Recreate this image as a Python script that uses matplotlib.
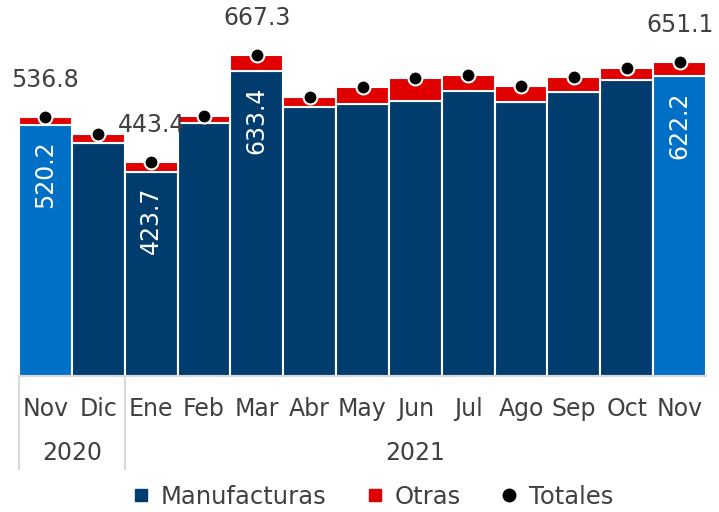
import matplotlib.pyplot as plt
from matplotlib.lines import Line2D
import numpy as np

# Datos (millones de dólares)
meses = ["Nov", "Dic", "Ene", "Feb", "Mar", "Abr", "May", "Jun", "Jul", "Ago", "Sep", "Oct", "Nov"]
anios = ["2020", "2021"]
meses_por_anio = [2, 11]
manufacturas = [520.2, 484.2, 423.7, 525.2, 633.4, 559.1, 564.7, 571.5, 591.7, 568.2, 589.0, 614.6, 622.2]
totales = [536.8, 502.3, 443.4, 539.1, 667.3, 579.9, 600.7, 619.4, 624.4, 602.1, 620.2, 639.6, 651.1]
otras = [t - m for t, m in zip(totales, manufacturas)]
etiquetados = [0, 2, 4, 12]   # barras con etiqueta de valor

AZUL = "#003D6E"
AZUL_CLARO = "#0070C6"
ROJO = "#E00000"
GRIS_TEXTO = "#404040"
GRIS_LINEA = "#D9D9D9"

plt.rcParams["font.family"] = ["DejaVu Sans"]

fig = plt.figure(figsize=(7.19, 5.12), dpi=100)
ax = fig.add_axes([19 / 719, 1 - 375.5 / 512, (706 - 19) / 719, 375.5 / 512])

x = np.arange(len(meses))
colores = [AZUL_CLARO if i in (0, len(meses) - 1) else AZUL for i in x]

ax.bar(x, manufacturas, width=1.0, color=colores, edgecolor="white", linewidth=1.5, zorder=2)
ax.bar(x, otras, bottom=manufacturas, width=1.0, color=ROJO, edgecolor="white", linewidth=1.5, zorder=2)
ax.plot(x, totales, "o", color="black", markersize=10, markeredgecolor="white", markeredgewidth=1.5,
        linestyle="none", zorder=3)

for i in etiquetados:
    ax.annotate(f"{totales[i]:.1f}", xy=(x[i], totales[i]), xytext=(0, 18), textcoords="offset points",
                ha="center", va="bottom", fontsize=17, color=GRIS_TEXTO)
    ax.annotate(f"{manufacturas[i]:.1f}", xy=(x[i], manufacturas[i]), xytext=(0, -11), textcoords="offset points",
                ha="center", va="top", rotation=90, fontsize=17, color="white")

ax.set_xlim(-0.5, len(meses) - 0.5)
ax.set_ylim(0, 781)
ax.set_yticks([])
for s in ["top", "right", "left"]:
    ax.spines[s].set_visible(False)
ax.spines["bottom"].set_color(GRIS_LINEA)
ax.spines["bottom"].set_linewidth(1.5)

ax.set_xticks(x)
ax.set_xticklabels(meses, fontsize=17, color=GRIS_TEXTO)
ax.tick_params(axis="x", length=0, pad=24)
for lbl in ax.get_xticklabels():
    lbl.set_va("center")

# separadores de años y etiquetas de año
inicio = -0.5
for anio, n in zip(anios, meses_por_anio):
    ax.plot([inicio, inicio], [0, -0.25], color=GRIS_LINEA, linewidth=1.5,
            transform=ax.get_xaxis_transform(), clip_on=False)
    ax.annotate(anio, xy=(inicio + n / 2, 0), xycoords=("data", "axes fraction"),
                xytext=(0, -56), textcoords="offset points", ha="center", va="center",
                fontsize=17, color=GRIS_TEXTO)
    inicio += n

handles = [
    Line2D([], [], marker="s", color=AZUL, linestyle="none", markersize=8),
    Line2D([], [], marker="s", color=ROJO, linestyle="none", markersize=8),
    Line2D([], [], marker="o", color="black", linestyle="none", markersize=9),
]
fig.legend(handles, ["Manufacturas", "Otras", "Totales"], loc="center", ncol=3,
           bbox_to_anchor=(371 / 719, 1 - 497 / 512), frameon=False, fontsize=17.5,
           handletextpad=0.3, handlelength=1.0, columnspacing=1.5, labelcolor=GRIS_TEXTO)

fig.savefig("out.png", dpi=100)
